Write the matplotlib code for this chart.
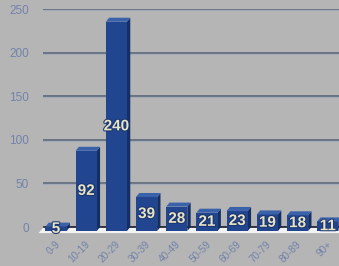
import matplotlib
matplotlib.use("Agg")
import matplotlib.pyplot as plt
from matplotlib.patches import Polygon
import matplotlib.patheffects as pe

categories = ["0-9", "10-19", "20-29", "30-39", "40-49", "50-59", "60-69", "70-79", "80-89", "90+"]
values = [5, 92, 240, 39, 28, 21, 23, 19, 18, 11]
yticks = [0, 50, 100, 150, 200, 250]

BG = "#b5b5b5"
FRONT = "#21468f"
SIDE = "#142f66"
TOP = "#3a62aa"

fig = plt.figure(figsize=(3.39, 2.66), dpi=100, facecolor=BG)
ax = fig.add_axes([43 / 339, 39 / 266, 296 / 339, 218 / 266])
ax.set_facecolor(BG)
ax.set_xlim(-0.43, -0.43 + 296 / 30.2)
ax.set_ylim(0, 250)
for s in ax.spines.values():
    s.set_visible(False)

# gridlines
for t in yticks[1:]:
    ax.axhline(t, color="#636d7d", lw=1.3, zorder=1)
    ax.axhline(t - 1.2, color="#a3abbb", lw=0.8, zorder=1)

ax.set_yticks(yticks)
ax.set_yticklabels([str(t) for t in yticks], fontsize=8.5, color="#7282aa",
                   family="Liberation Sans")
ax.tick_params(axis="y", length=0, pad=10)
ax.set_xticks([])

dx = 0.11    # depth in x (category units)
dy = 4.6     # depth in y (value units)
w = 0.70     # front width
n = len(values)

# floor
floor = Polygon([(-0.40, 0), (n - 0.4 + 0.5, 0), (n - 0.5, -7), (-0.58, -7)],
                closed=True, facecolor="#f2f2f2", edgecolor="none", zorder=2, clip_on=False)
ax.add_patch(floor)
ax.plot([-0.40, n + 0.5], [0, 0], color="#1a1a22", lw=1.2, zorder=2.5, clip_on=False)

for i, v in enumerate(values):
    x0 = i - w / 2
    x1 = i + w / 2
    yb = -dy
    yt = v - dy
    front = Polygon([(x0, yb), (x1, yb), (x1, yt), (x0, yt)], closed=True,
                    facecolor=FRONT, edgecolor="none", zorder=3, clip_on=False)
    side = Polygon([(x1, yb), (x1 + dx, yb + dy), (x1 + dx, yt + dy), (x1, yt)], closed=True,
                   facecolor=SIDE, edgecolor="none", zorder=3, clip_on=False)
    top = Polygon([(x0, yt), (x1, yt), (x1 + dx, yt + dy), (x0 + dx, yt + dy)], closed=True,
                  facecolor=TOP, edgecolor="none", zorder=3, clip_on=False)
    for p in (side, front, top):
        ax.add_patch(p)
    ax.text(i, (yb + yt) / 2, str(v), ha="center", va="center", fontsize=11,
            fontweight="bold", color="#e6e3c6", family="Liberation Sans", zorder=5,
            path_effects=[pe.withStroke(linewidth=1.5, foreground="#1c3570")])
    ax.text(i + 0.2, -13.5, categories[i], rotation=45, ha="right", va="top",
            fontsize=7.2, color="#7282aa", family="Liberation Sans", clip_on=False)

fig.savefig("out.png", dpi=100, facecolor=BG)
